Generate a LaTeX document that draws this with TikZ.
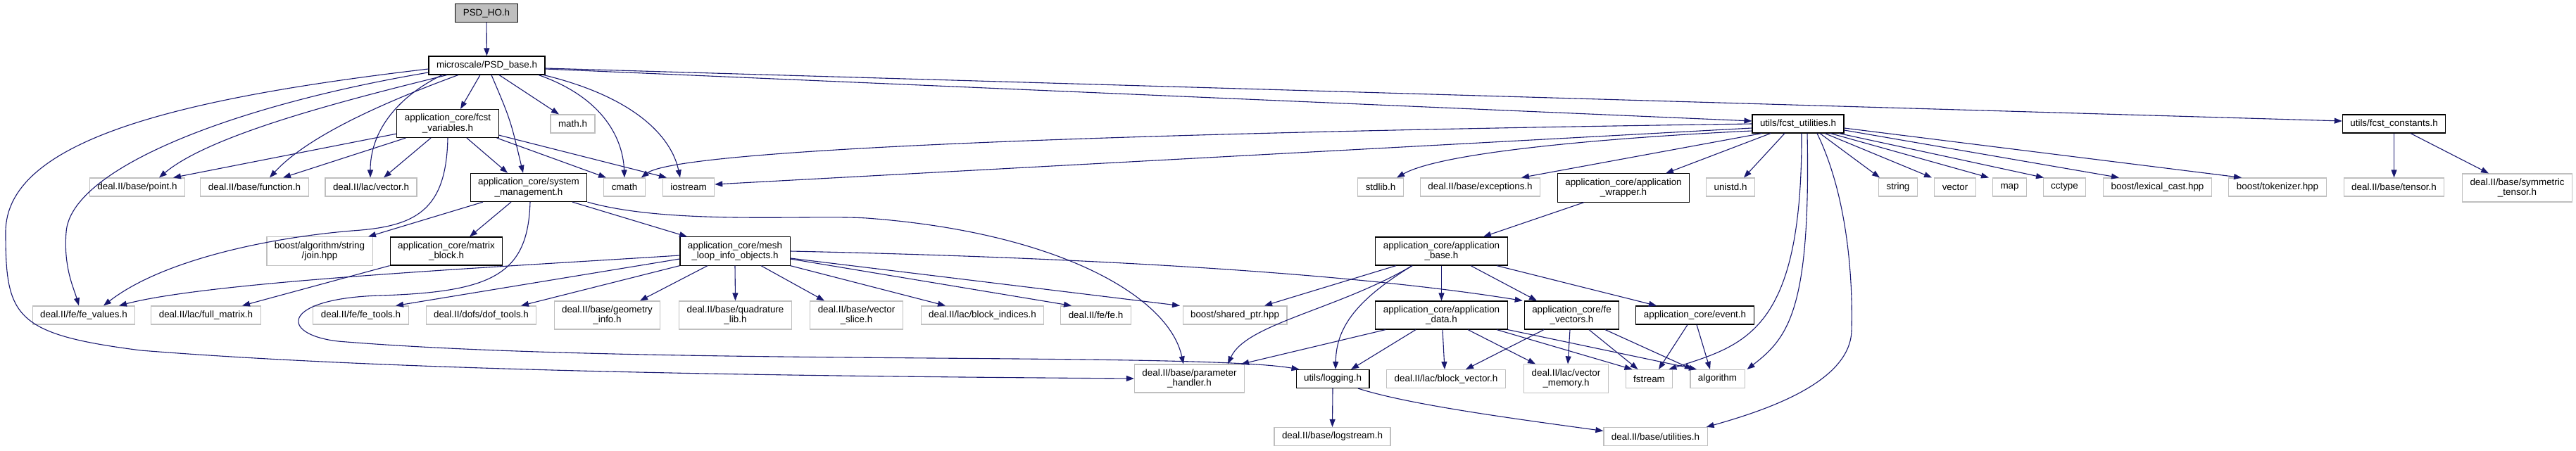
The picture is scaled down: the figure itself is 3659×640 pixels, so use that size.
\documentclass[tikz,border=0pt]{standalone}
\usepackage{fontspec}
\setmainfont{Liberation Sans}
\usepackage{xcolor}
\usepackage{tikz}
\usetikzlibrary{arrows.meta,positioning}
\definecolor{edgeblue}{HTML}{191970}
\definecolor{nodegray}{HTML}{BFBFBF}
\tikzset{
  docfile/.style={rectangle, draw=black, fill=white, line width=1.1pt, align=center,
    font=\fontsize{13.4pt}{14.7pt}\selectfont, inner xsep=11pt, inner ysep=6.5pt,
    minimum height=26pt},
  extfile/.style={docfile, draw=nodegray},
  rootfile/.style={docfile, fill=nodegray},
  incl/.style={-{Triangle[length=11pt,width=8pt]}, draw=edgeblue, line width=1.1pt},
}

\begin{document}
\begin{tikzpicture}[x=1pt, y=-1pt]
  \useasboundingbox (0,0) rectangle (3659,640);

  % top two levels
  \node[rootfile] (psdho) at (691,18.5) {PSD\_HO.h};
  \node[docfile] (psdbase) at (691.5,93) {microscale/PSD\_base.h};
  \node[docfile] (fcstvars) at (636,175.5) {application\_core/fcst\\\_variables.h};
  \node[extfile] (mathh) at (813.5,176) {math.h};
  \node[docfile] (fcstutil) at (2554,176) {utils/fcst\_utilities.h};
  \node[docfile] (fcstconst) at (3400.5,176) {utils/fcst\_constants.h};

  % third level
  \node[extfile] (point) at (195,266) {deal.II/base/point.h};
  \node[extfile] (function) at (361.5,266) {deal.II/base/function.h};
  \node[extfile] (lacvector) at (527,266) {deal.II/lac/vector.h};
  \node[docfile] (sysman) at (751,266.5) {application\_core/system\\\_management.h};
  \node[extfile] (cmath) at (887,266) {cmath};
  \node[extfile] (iostream) at (978,266) {iostream};
  \node[extfile] (stdlib) at (1961,266) {stdlib.h};
  \node[extfile] (exceptions) at (2102.5,266) {deal.II/base/exceptions.h};
  \node[docfile] (appwrapper) at (2306,267) {application\_core/application\\\_wrapper.h};
  \node[extfile] (unistd) at (2458,266) {unistd.h};
  \node[extfile] (string) at (2696,266) {string};
  \node[extfile] (vector) at (2777,266) {vector};
  \node[extfile] (map) at (2854.5,266) {map};
  \node[extfile] (cctype) at (2932.5,266) {cctype};
  \node[extfile] (lexicalcast) at (3064.5,266) {boost/lexical\_cast.hpp};
  \node[extfile] (tokenizer) at (3235,266) {boost/tokenizer.hpp};
  \node[extfile] (tensor) at (3400.5,266) {deal.II/base/tensor.h};
  \node[extfile] (symtensor) at (3575.5,267) {deal.II/base/symmetric\\\_tensor.h};

  % fourth level
  \node[extfile] (join) at (454,357) {boost/algorithm/string\\/join.hpp};
  \node[docfile] (matrixblock) at (634,357) {application\_core/matrix\\\_block.h};
  \node[docfile] (meshloop) at (1044,357) {application\_core/mesh\\\_loop\_info\_objects.h};
  \node[docfile] (appbase) at (2047.5,357) {application\_core/application\\\_base.h};

  % fifth level
  \node[extfile] (fevalues) at (119,448) {deal.II/fe/fe\_values.h};
  \node[extfile] (fullmatrix) at (292.5,448) {deal.II/lac/full\_matrix.h};
  \node[extfile] (fetools) at (512.5,448) {deal.II/fe/fe\_tools.h};
  \node[extfile] (doftools) at (683.5,448) {deal.II/dofs/dof\_tools.h};
  \node[extfile] (geominfo) at (862.5,448) {deal.II/base/geometry\\\_info.h};
  \node[extfile] (quadlib) at (1044.5,448) {deal.II/base/quadrature\\\_lib.h};
  \node[extfile] (vecslice) at (1216.5,448) {deal.II/base/vector\\\_slice.h};
  \node[extfile] (blockindices) at (1395.5,448) {deal.II/lac/block\_indices.h};
  \node[extfile] (feh) at (1556.5,448) {deal.II/fe/fe.h};
  \node[extfile] (sharedptr) at (1754,448) {boost/shared\_ptr.hpp};
  \node[docfile] (appdata) at (2047.5,448) {application\_core/application\\\_data.h};
  \node[docfile] (fevectors) at (2232.5,448) {application\_core/fe\\\_vectors.h};
  \node[docfile] (event) at (2407.5,448) {application\_core/event.h};

  % bottom levels
  \node[extfile] (paramhandler) at (1689.5,538) {deal.II/base/parameter\\\_handler.h};
  \node[docfile] (logging) at (1893,538.5) {utils/logging.h};
  \node[extfile] (blockvector) at (2054,538.5) {deal.II/lac/block\_vector.h};
  \node[extfile] (vecmemory) at (2224.5,538) {deal.II/lac/vector\\\_memory.h};
  \node[extfile] (fstream) at (2342.5,538.5) {fstream};
  \node[extfile] (algorithm) at (2439.5,538.5) {algorithm};
  \node[extfile] (logstream) at (1892.5,620.5) {deal.II/base/logstream.h};
  \node[extfile] (utilities) at (2351.5,620.5) {deal.II/base/utilities.h};

  % PSD_HO.h and microscale/PSD_base.h
  \draw[incl] (psdho) -- (psdbase);
  \draw[incl] ([xshift=-9.5pt]psdbase.south) -- ([xshift=18pt]fcstvars.north);
  \draw[incl] ([xshift=6.5pt]psdbase.south) .. controls (725,170) .. ([xshift=-8pt]sysman.north);
  \draw[incl] ([xshift=17.5pt]psdbase.south) -- ([xshift=-19.5pt]mathh.north);
  \draw[incl] ([xshift=73.5pt]psdbase.south) .. controls (860,140) and (885,200) .. (cmath.north);
  \draw[incl] ([xshift=80.5pt]psdbase.south) .. controls (910,140) and (955,200) .. ([xshift=-12pt]iostream.north);
  \draw[incl] ([xshift=-56.5pt]psdbase.south) .. controls (500,140) and (300,190) .. ([xshift=31pt]point.north);
  \draw[incl] ([xshift=-40.5pt]psdbase.south) .. controls (560,140) and (440,190) .. ([xshift=21.5pt]function.north);
  \draw[incl] ([xshift=-63.5pt]psdbase.south) .. controls (560,140) and (526,190) .. ([xshift=-1pt]lacvector.north);
  \draw[incl] ([yshift=-5pt]psdbase.east) -- ([yshift=4pt]fcstutil.west);
  \draw[incl] ([yshift=-4pt]psdbase.east) -- ([yshift=4pt]fcstconst.west);
  \draw[incl] ([yshift=-10pt]psdbase.west) .. controls (330,150) and (100,240) .. (94,330)
    .. controls (90,380) and (105,410) .. ([xshift=-7pt]fevalues.north);
  \draw[incl] ([yshift=-5pt]psdbase.west) .. controls (250,140) and (8,200) .. (8,330)
    .. controls (8,450) and (20,475) .. (200,498) .. controls (600,530) and (1200,535) .. (paramhandler.west);

  % application_core/fcst_variables.h
  \draw[incl] ([yshift=6pt]fcstvars.south west) -- ([xshift=51pt]point.north);
  \draw[incl] ([xshift=13pt]fcstvars.south west) -- ([xshift=40.5pt]function.north);
  \draw[incl] ([xshift=-24pt]fcstvars.south) -- ([xshift=18pt]lacvector.north);
  \draw[incl] (fcstvars.south) .. controls (634,300) and (590,322) .. (500,328)
    .. controls (380,338) and (230,370) .. ([xshift=28pt]fevalues.north);
  \draw[incl] ([xshift=27pt]fcstvars.south) -- ([xshift=-30pt]sysman.north);
  \draw[incl] ([xshift=-3pt]fcstvars.south east) -- ([xshift=-26pt]cmath.north);
  \draw[incl] ([yshift=4pt]fcstvars.south east) -- ([xshift=-31pt]iostream.north);

  % application_core/system_management.h
  \draw[incl] ([xshift=-65pt]sysman.south) -- ([xshift=69pt]join.north);
  \draw[incl] ([xshift=-25pt]sysman.south) -- ([xshift=33pt]matrixblock.north);
  \draw[incl] ([xshift=62pt]sysman.south) -- ([xshift=-68pt]meshloop.north);
  \draw[incl] ([xshift=2pt]sysman.south) .. controls (750,390) and (700,415) .. (540,420)
    .. controls (400,424) and (395,475) .. (480,485) .. controls (900,520) and (1700,500) .. ([xshift=5pt]logging.north west);
  \draw[incl] (sysman.south east) .. controls (950,320) and (1150,305) .. (1231,310)
    .. controls (1500,330) and (1660,420) .. ([xshift=-8.5pt]paramhandler.north);
  \draw[incl] (matrixblock.south west) -- ([xshift=51.5pt]fullmatrix.north);

  % application_core/mesh_loop_info_objects.h
  \draw[incl] ([yshift=-6pt]meshloop.west) .. controls (700,380) and (300,400) .. ([xshift=50pt]fevalues.north);
  \draw[incl] ([yshift=-11pt]meshloop.west) -- ([xshift=49.5pt]fetools.north);
  \draw[incl] (meshloop.south west) -- ([xshift=56.5pt]doftools.north);
  \draw[incl] ([xshift=-39pt]meshloop.south) -- ([xshift=46.5pt]geominfo.north);
  \draw[incl] (meshloop.south) -- (quadlib.north);
  \draw[incl] ([xshift=37pt]meshloop.south) -- ([xshift=-45.5pt]vecslice.north);
  \draw[incl] (meshloop.south east) -- ([xshift=-52.5pt]blockindices.north);
  \draw[incl] ([yshift=-11pt]meshloop.east) -- ([xshift=-34.5pt]feh.north);
  \draw[incl] ([yshift=-10pt]meshloop.east) -- ([xshift=-78pt]sharedptr.north);
  \draw[incl] (meshloop.east) .. controls (1500,365) and (1900,385) .. ([xshift=-2pt]fevectors.north west);

  % application_core/application_wrapper.h and application_base.h
  \draw[incl] ([xshift=-56pt]appwrapper.south) -- ([xshift=59.5pt]appbase.north);
  \draw[incl] ([xshift=-64.5pt]appbase.south) -- ([xshift=42pt]sharedptr.north);
  \draw[incl] ([xshift=-41.5pt]appbase.south) .. controls (1900,440) and (1770,460) .. ([xshift=54.5pt]paramhandler.north);
  \draw[incl] ([xshift=-41.5pt]appbase.south) .. controls (1920,430) and (1898,470) .. ([xshift=4pt]logging.north);
  \draw[incl] (appbase.south) -- (appdata.north);
  \draw[incl] ([xshift=41.5pt]appbase.south) -- ([xshift=-49.5pt]fevectors.north);
  \draw[incl] ([xshift=78.5pt]appbase.south) -- ([xshift=-54.5pt]event.north);

  % application_core/application_data.h, fe_vectors.h, event.h
  \draw[incl] ([xshift=-79.5pt]appdata.south) -- ([xshift=-5pt]paramhandler.north east);
  \draw[incl] ([xshift=-36.5pt]appdata.south) -- ([xshift=26pt]logging.north);
  \draw[incl] ([xshift=1.5pt]appdata.south) -- ([xshift=-2pt]blockvector.north);
  \draw[incl] ([xshift=37.5pt]appdata.south) -- ([xshift=-43.5pt]vecmemory.north);
  \draw[incl] ([xshift=78.5pt]appdata.south) -- ([xshift=-24pt]fstream.north);
  \draw[incl] (appdata.south east) -- ([xshift=-29.5pt]algorithm.north);
  \draw[incl] ([xshift=-39.5pt]fevectors.south) -- ([xshift=28pt]blockvector.north);
  \draw[incl] ([xshift=-2.5pt]fevectors.south) -- ([xshift=2.5pt]vecmemory.north);
  \draw[incl] ([xshift=24.5pt]fevectors.south) -- ([xshift=-16pt]fstream.north);
  \draw[incl] ([xshift=47.5pt]fevectors.south) -- ([xshift=-35.5pt]algorithm.north);
  \draw[incl] ([xshift=-10.5pt]event.south) -- ([xshift=13.5pt]fstream.north);
  \draw[incl] ([xshift=2.5pt]event.south) -- ([xshift=-10.5pt]algorithm.north);

  % utils/logging.h
  \draw[incl] (logging.south) -- (logstream.north);
  \draw[incl] ([xshift=36pt]logging.south) .. controls (2000,575) and (2150,595) .. ([yshift=8pt]utilities.west);

  % utils/fcst_utilities.h
  \draw[incl] (fcstutil.west) .. controls (1500,190) and (960,215) .. ([xshift=-6pt]cmath.north east);
  \draw[incl] ([yshift=-6pt]fcstutil.west) -- ([yshift=4pt]iostream.east);
  \draw[incl] ([yshift=-10pt]fcstutil.west) .. controls (2300,195) and (2050,215) .. ([xshift=23pt]stdlib.north);
  \draw[incl] ([xshift=14pt]fcstutil.south west) -- ([xshift=58.5pt]exceptions.north);
  \draw[incl] ([xshift=-39pt]fcstutil.south) -- ([xshift=60pt]appwrapper.north);
  \draw[incl] ([xshift=-19pt]fcstutil.south) -- ([xshift=19pt]unistd.north);
  \draw[incl] ([xshift=31pt]fcstutil.south) -- ([xshift=-26pt]string.north);
  \draw[incl] ([xshift=38pt]fcstutil.south) -- ([xshift=-33pt]vector.north);
  \draw[incl] ([xshift=46pt]fcstutil.south) -- ([xshift=-29.5pt]map.north);
  \draw[incl] ([xshift=58pt]fcstutil.south) -- ([xshift=-29.5pt]cctype.north);
  \draw[incl] ([yshift=-9pt]fcstutil.east) -- ([xshift=-54.5pt]lexicalcast.north);
  \draw[incl] ([yshift=-6pt]fcstutil.east) -- ([xshift=-51pt]tokenizer.north);
  \draw[incl] ([xshift=5pt]fcstutil.south) .. controls (2560,470) and (2480,490) .. ([xshift=-6pt]fstream.north east);
  \draw[incl] ([xshift=13pt]fcstutil.south) .. controls (2572,440) and (2540,480) .. ([xshift=3pt]algorithm.north east);
  \draw[incl] ([xshift=27pt]fcstutil.south) .. controls (2625,280) and (2632,400) .. (2630,470)
    .. controls (2628,540) and (2520,580) .. ([xshift=-2pt]utilities.north east);

  % utils/fcst_constants.h
  \draw[incl] (fcstconst.south) -- (tensor.north);
  \draw[incl] ([xshift=23.5pt]fcstconst.south) -- ([xshift=-40.5pt]symtensor.north);
\end{tikzpicture}
\end{document}
